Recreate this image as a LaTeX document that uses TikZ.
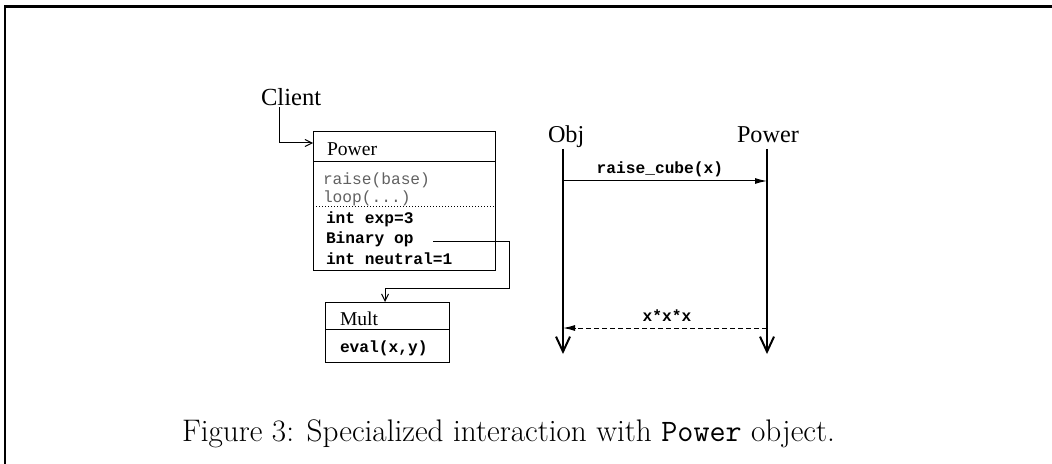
\documentclass[tikz,border=0pt]{standalone}
\usepackage{fontspec}
\newfontfamily\tms{Liberation Serif}
\newfontfamily\cour{Liberation Mono}
\usetikzlibrary{arrows.meta,calc}
\begin{document}
\begin{tikzpicture}[x=0.5pt,y=-0.5pt,
  every node/.style={inner sep=0pt,outer sep=0pt},
  box/.style={draw,line width=0.5pt,rectangle},
  serif/.style={font=\tms\fontsize{9.8}{11}\selectfont,anchor=base west},
  bigserif/.style={font=\tms\fontsize{12.3}{14}\selectfont,anchor=base west},
  code/.style={font=\cour\fontsize{8.1}{9}\selectfont,anchor=base west},
  bcode/.style={font=\cour\bfseries\fontsize{8.1}{9}\selectfont,anchor=base west},
  gcode/.style={code,text=black!62},
  thin/.style={line width=0.5pt},
  link/.style={thin,-{Straight Barb[length=3.5pt,width=3.5pt,line width=0.5pt]}},
  lifeline/.style={line width=1pt,-{Straight Barb[length=7.5pt,width=7pt,line width=1pt]}},
  msg/.style={thin,-{Latex[length=6pt,width=3pt]}},
  frame/.style={line width=1.1pt}
]
\useasboundingbox (0,0) rectangle (1052,464);
\draw[frame] (1052,6.5) -- (5,6.5) -- (5,464);

% Client
\node[bigserif] (client) at (261,106) {Client};

% Power class box
\node[box,minimum width=91pt,minimum height=69.5pt] (power) at (404,201.5) {};
\coordinate (pdivl) at (313,162);
\coordinate (pdivr) at (495,162);
\draw[thin] (pdivl) -- (pdivr);
\coordinate (pdotl) at (313,207);
\coordinate (pdotr) at (495,207);
\draw[thin,dash pattern=on 0.5pt off 1pt] (pdotl) -- (pdotr);
\node[serif] (ptitle) at (327,156) {Power};
\node[gcode] (raise) at (323,185) {raise(base)};
\node[gcode] (loop) at (323,203) {loop(...)};
\node[bcode] (exp) at (326,224) {int exp=3};
\node[bcode] (binop) at (326,244) {Binary op};
\node[bcode] (neutral) at (326,264) {int neutral=1};

% Mult class box
\node[box,minimum width=62pt,minimum height=30pt] (mult) at (387,332) {};
\coordinate (mdivl) at (325,329);
\coordinate (mdivr) at (449,329);
\draw[thin] (mdivl) -- (mdivr);
\node[serif] (mtitle) at (340,325) {Mult};
\node[bcode] (eval) at (340,352) {eval(x,y)};

% connectors
\draw[link] ($(client.south west)+(18,1)$) |- ($(power.north west)+(0,11)$);
\coordinate (bstart) at (433,242);
\coordinate (bcorner) at (509,288);
\draw[link] (bstart) -| (bcorner) -| ($(mult.north west)+(60,0)$);

% sequence diagram
\node[bigserif,font=\tms\fontsize{12.1}{14}\selectfont] (obj) at (548,143) {Obj};
\node[bigserif,font=\tms\fontsize{12.1}{14}\selectfont] (spower) at (737,143) {Power};
\coordinate (objtop) at (563,149);
\coordinate (objbot) at (563,354);
\coordinate (pwtop) at (767,149);
\coordinate (pwbot) at (767,354);
\draw[lifeline] (objtop) -- (objbot);
\draw[lifeline] (pwtop) -- (pwbot);
\coordinate (m1a) at (563,181);
\coordinate (m1b) at (767,181);
\draw[msg] (m1a) -- node[bcode,anchor=base,pos=0.475,yshift=3.5pt] (rc) {raise\_cube(x)} (m1b);
\coordinate (m2a) at (767,328);
\coordinate (m2b) at (563,328);
\draw[msg,dash pattern=on 2.5pt off 1.5pt] (m2a) -- node[bcode,anchor=base,pos=0.49,yshift=3.5pt] (ret) {x*x*x} (m2b);

% caption
\node[anchor=base west,font=\fontsize{15.6}{18}\selectfont] (caption) at (182,441) {Figure 3: Specialized interaction with \texttt{Power} object.};
\end{tikzpicture}
\end{document}
